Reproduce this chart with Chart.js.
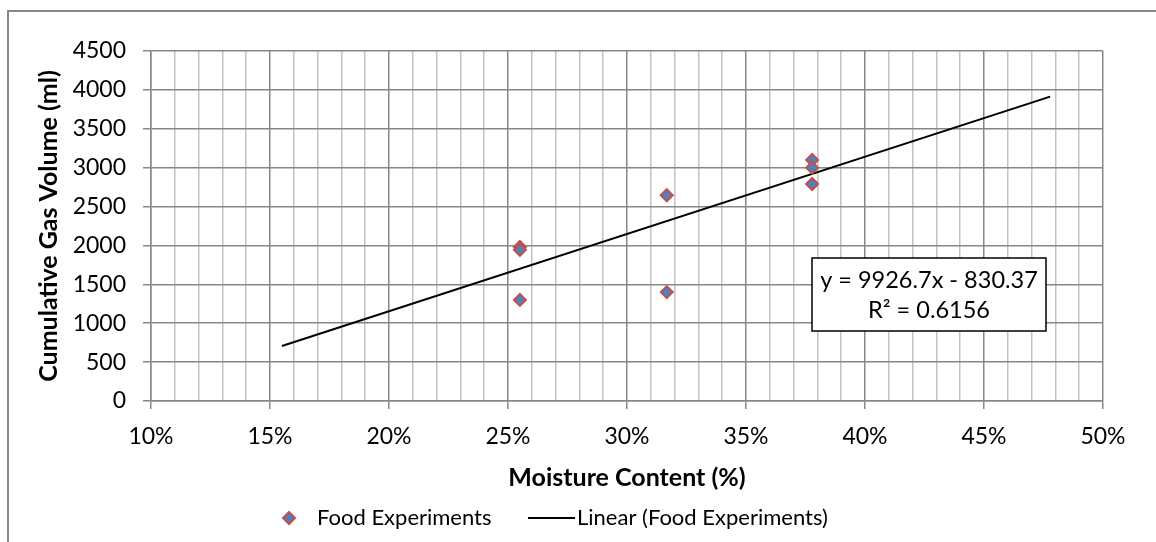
<!DOCTYPE html>
<html>
<head>
<meta charset="utf-8">
<script src="https://cdn.jsdelivr.net/npm/chart.js@4"></script>
<style>
  body { margin: 0; background: #fff; }
  canvas { display: block; }
</style>
</head>
<body>
<canvas id="chart" width="1156" height="542"></canvas>
<script>
const moisture = [0.255, 0.255, 0.255, 0.3167, 0.3167, 0.3778, 0.3778, 0.3778];
const gasVolume = [1980, 1945, 1300, 2645, 1400, 3100, 3000, 2790];
const trendX = [0.155, 0.4778];
const trendY = [708, 3913];
const equationLines = ["y = 9926.7x - 830.37", "R\u00b2 = 0.6156"];
const seriesLabels = ["Food Experiments", "Linear (Food Experiments)"];

const FONT = "Lato, Carlito, Calibri, sans-serif";
const GRID_MAJOR = "#878787";
const GRID_MINOR = "#c2c2c2";
const MARKER_FILL = "#4f81bd";
const MARKER_EDGE = "#c0504d";

const isMajorX = (v) => Math.round(v * 100) % 5 === 0;

function drawDiamond(ctx, x, y, r) {
  ctx.beginPath();
  ctx.moveTo(x, y - r);
  ctx.lineTo(x + r, y);
  ctx.lineTo(x, y + r);
  ctx.lineTo(x - r, y);
  ctx.closePath();
  ctx.fillStyle = MARKER_FILL;
  ctx.fill();
  ctx.strokeStyle = MARKER_EDGE;
  ctx.lineWidth = 2;
  ctx.stroke();
}

const frame = {
  id: "frame",
  beforeDraw(chart) {
    const ctx = chart.ctx;
    ctx.save();
    ctx.fillStyle = "#fff";
    ctx.fillRect(0, 0, chart.width, chart.height);
    ctx.strokeStyle = "#878787";
    ctx.lineWidth = 2;
    ctx.strokeRect(8, 11, chart.width + 20, chart.height + 20);
    ctx.restore();
  },
};

const extras = {
  id: "extras",
  afterDraw(chart) {
    const ctx = chart.ctx;
    ctx.save();

    // equation box
    const bx = 812, by = 258, bw = 234, bh = 73;
    ctx.fillStyle = "#fff";
    ctx.fillRect(bx, by, bw, bh);
    ctx.strokeStyle = "#000";
    ctx.lineWidth = 1.5;
    ctx.strokeRect(bx, by, bw, bh);
    ctx.fillStyle = "#000";
    ctx.font = "23.5px " + FONT;
    ctx.textAlign = "center";
    ctx.textBaseline = "middle";
    ctx.fillText(equationLines[0], bx + bw / 2, by + 22);
    ctx.fillText(equationLines[1], bx + bw / 2, by + 52);

    // legend
    const ly = 518;
    ctx.font = "22px " + FONT;
    drawDiamond(ctx, 289, ly, 6);
    ctx.textAlign = "left";
    ctx.fillStyle = "#000";
    ctx.fillText(seriesLabels[0], 317, ly);
    ctx.beginPath();
    ctx.moveTo(528, ly);
    ctx.lineTo(575, ly);
    ctx.strokeStyle = "#000";
    ctx.lineWidth = 2;
    ctx.stroke();
    ctx.fillText(seriesLabels[1], 577, ly);

    ctx.restore();
  },
};

const points = moisture.map((x, i) => ({ x, y: gasVolume[i] }));
const trend = trendX.map((x, i) => ({ x, y: trendY[i] }));

new Chart(document.getElementById("chart"), {
  type: "scatter",
  data: {
    datasets: [
      {
        label: seriesLabels[1],
        data: trend,
        showLine: true,
        borderColor: "#000",
        borderWidth: 2,
        pointRadius: 0,
        order: 2,
      },
      {
        label: seriesLabels[0],
        data: points,
        pointStyle: "rectRot",
        pointRadius: 6,
        backgroundColor: MARKER_FILL,
        borderColor: MARKER_EDGE,
        borderWidth: 2,
        order: 1,
      },
    ],
  },
  options: {
    responsive: false,
    animation: false,
    layout: { padding: { left: 0, top: 51, right: 53, bottom: 0 } },
    plugins: {
      legend: { display: false },
      tooltip: { enabled: false },
    },
    scales: {
      x: {
        type: "linear",
        min: 0.1,
        max: 0.5,
        afterFit: (s) => { s.height = 141; },
        border: { color: GRID_MAJOR, width: 1.5 },
        grid: {
          color: (c) => (isMajorX(c.tick.value) ? GRID_MAJOR : GRID_MINOR),
          tickColor: (c) => (isMajorX(c.tick.value) ? GRID_MAJOR : "transparent"),
          tickLength: 8,
          lineWidth: 1.5,
        },
        ticks: {
          stepSize: 0.01,
          maxTicksLimit: 100,
          autoSkip: false,
          maxRotation: 0,
          padding: 14,
          color: "#000",
          font: { family: FONT, size: 23 },
          callback: (v) => (isMajorX(v) ? Math.round(v * 100) + "%" : ""),
        },
        title: {
          display: true,
          text: "Moisture Content (%)",
          color: "#000",
          font: { family: FONT, size: 25, weight: "bold", lineHeight: 1.2 },
          padding: { top: 0, bottom: 49 },
        },
      },
      y: {
        min: 0,
        max: 4500,
        afterFit: (s) => { s.width = 151; },
        border: { color: GRID_MAJOR, width: 1.5 },
        grid: { color: GRID_MAJOR, tickLength: 8, lineWidth: 1.5 },
        ticks: {
          stepSize: 500,
          padding: 17,
          color: "#000",
          font: { family: FONT, size: 23 },
          callback: (v) => String(v),
        },
        title: {
          display: true,
          text: "Cumulative Gas Volume (ml)",
          color: "#000",
          font: { family: FONT, size: 25, weight: "bold", lineHeight: 1.2 },
          padding: { top: 34, bottom: 0 },
        },
      },
    },
  },
  plugins: [frame, extras],
});
</script>
</body>
</html>
